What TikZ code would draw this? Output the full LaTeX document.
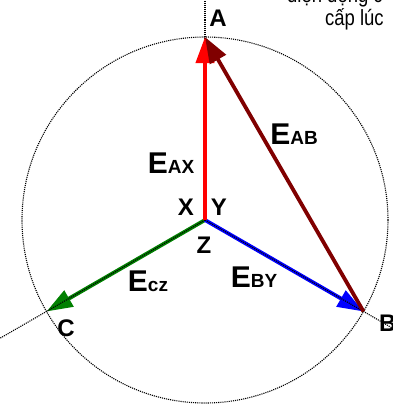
\documentclass[tikz,border=0pt]{standalone}
\usepackage{fontspec}
\setmainfont{Liberation Sans}
\newfontfamily\narrowfont[FakeStretch=0.84]{Liberation Sans}
\usepackage{tikz}
\usetikzlibrary{arrows.meta}
\definecolor{darkred}{RGB}{128,0,0}
\definecolor{phgreen}{RGB}{0,128,0}
\newcommand{\emfl}[1]{{\fontsize{30}{30}\selectfont\bfseries E}{\fontsize{19}{19}\selectfont\bfseries #1}}
\tikzset{
    phasor/.style={line width=3.8pt, -{Triangle[length=26pt,width=18pt]}},
    axisline/.style={densely dotted, line width=1.1pt},
    ptlabel/.style={font=\fontsize{24}{24}\selectfont\bfseries, inner sep=0pt},
    emflabel/.style={inner sep=0pt}
}

\begin{document}
\begin{tikzpicture}[x=1pt,y=-1pt]
            \useasboundingbox (0,0) rectangle (392,405);
            \coordinate (O) at (205,220);
            \coordinate (A) at (205,37);
            \coordinate (B) at (363.5,311.5);
            \coordinate (C) at (46.5,311.5);
            \coordinate (Aend) at (205,-10);
            \coordinate (Bend) at (413,340);
            \coordinate (Cend) at (-3,340);

            \draw[axisline] (O) circle[radius=183pt];

            \draw[phasor, phgreen] (O) -- (C);
            \draw[phasor, blue] (O) -- (B);

            \draw[axisline] (O) -- (Aend);
            \draw[axisline] (O) -- (Bend);
            \draw[axisline] (O) -- (Cend);

            \draw[phasor, red] (O) -- (A);
            \draw[phasor, darkred] (B) -- (A);

            \node[ptlabel] (lA) at (218,18) {A};
            \node[ptlabel, anchor=west] (lB) at (379,323) {B};
            \node[ptlabel] (lC) at (66,328) {C};
            \node[ptlabel] (lX) at (186,207) {X};
            \node[ptlabel] (lY) at (219,207) {Y};
            \node[ptlabel] (lZ) at (204,245) {Z};

            \node[emflabel] (eAX) at (171,163) {\emfl{AX}};
            \node[emflabel] (eAB) at (294,134) {\emfl{AB}};
            \node[emflabel] (eBY) at (254,277) {\emfl{BY}};
            \node[emflabel] (eCZ) at (148,281) {\emfl{cz}};

            \node[anchor=base west, inner sep=0pt, font=\narrowfont\fontsize{22}{22}\selectfont] (t1) at (287,2) {điện động c};
            \node[anchor=base west, inner sep=0pt, font=\narrowfont\fontsize{22}{22}\selectfont] (t2) at (325,25) {cấp lúc};
        \end{tikzpicture}
\end{document}
